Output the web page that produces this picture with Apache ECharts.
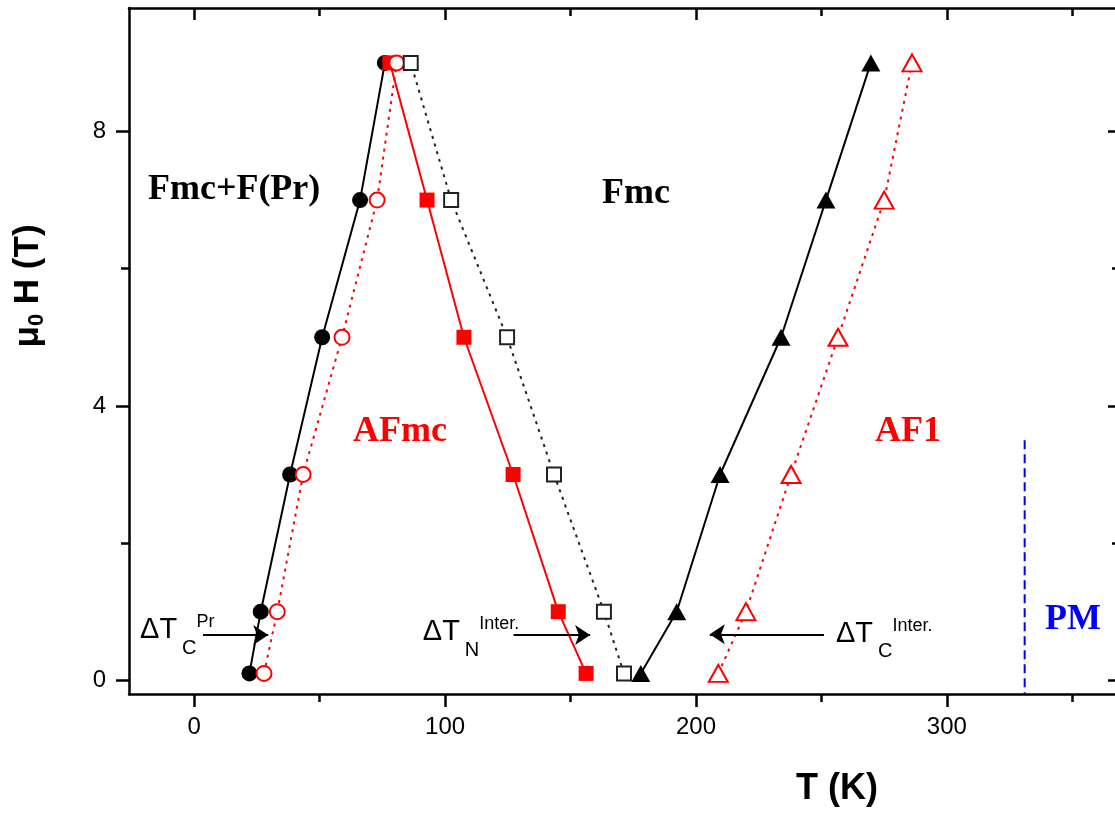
<!DOCTYPE html>
<html>
<head>
<meta charset="utf-8">
<title>Magnetic phase diagram μ0H vs T</title>
<script src="https://cdn.jsdelivr.net/npm/echarts@6/dist/echarts.min.js"></script>
<style>
  html, body { margin: 0; padding: 0; background: #fff; }
  #chart { width: 1115px; height: 816px; }
</style>
</head>
<body>
<div id="chart"></div>
<script>
// Applied field levels (T) shared by every transition line
const fieldLevels = [0.1, 1, 3, 5, 7, 9];

// Transition temperatures (K) at each field level
const tFilledCircle   = [22.0, 26.5, 38.2, 51.0, 66.1, 76.0];
const tOpenCircle     = [27.8, 33.1, 43.4, 58.9, 72.9, 80.7];
const tFilledSquare   = [156.2, 145.1, 127.1, 107.5, 92.8, 78.0];
const tOpenSquare     = [171.3, 163.3, 143.4, 124.7, 102.4, 86.3];
const tFilledTriangle = [178.0, 192.3, 209.6, 233.9, 251.8, 269.7];
const tOpenTriangle   = [208.9, 219.9, 237.9, 256.6, 275.0, 286.1];

// Paramagnetic boundary (dashed vertical segment): [T, μ0H]
const pmBoundary = [[331, 3.5], [331, -0.2]];

// Axis ticks
const tMajorTicks = [0, 100, 200, 300];
const tMinorTicks = [50, 150, 250, 350];
const hMajorTicks = [0, 4, 8];
const hMinorTicks = [2, 6];

const T_MIN = -26, T_MAX = 369;
const H_MIN = -0.2, H_MAX = 9.8;

const SANS = "'Liberation Sans', Arial, Helvetica, sans-serif";
const SERIF = "'Liberation Serif', 'Times New Roman', Times, serif";
const RED = '#ff0000';
const BLUE = '#0000ff';

function pairs(ts) {
  return ts.map((t, i) => [t, fieldLevels[i]]);
}

const gridRect = { left: 129, top: 8, width: 991, height: 686, outerBoundsMode: 'none', containLabel: false };

function xAxisDef(gridIndex, position, ticks, len, inside, withLine, withLabels) {
  return {
    type: 'value', gridIndex, position, min: T_MIN, max: T_MAX,
    axisLine: { show: withLine, onZero: false, lineStyle: { color: '#000', width: 2.5 } },
    axisTick: { show: true, inside, length: len, customValues: ticks, lineStyle: { color: '#000', width: 2.5 } },
    axisLabel: withLabels
      ? { show: true, customValues: ticks, margin: 21, fontSize: 24, color: '#000', fontFamily: SANS }
      : { show: false, customValues: ticks },
    splitLine: { show: false }, minorTick: { show: false }
  };
}

function yAxisDef(gridIndex, position, ticks, len, inside, withLine, withLabels) {
  return {
    type: 'value', gridIndex, position, min: H_MIN, max: H_MAX,
    axisLine: { show: withLine, onZero: false, lineStyle: { color: '#000', width: 2.5 } },
    axisTick: { show: true, inside, length: len, customValues: ticks, lineStyle: { color: '#000', width: 2.5 } },
    axisLabel: withLabels
      ? { show: true, customValues: ticks, margin: 23, fontSize: 24, color: '#000', fontFamily: SANS }
      : { show: false, customValues: ticks },
    splitLine: { show: false }, minorTick: { show: false }
  };
}

function transitionSeries(name, ts, symbol, size, color, lineType, border) {
  return {
    type: 'line', name, data: pairs(ts),
    xAxisIndex: 0, yAxisIndex: 0,
    symbol, symbolSize: size, showAllSymbol: true,
    itemStyle: border
      ? { color: color, borderColor: color, borderWidth: 1.5, opacity: 1 }
      : { color: color, borderWidth: 0, opacity: 1 },
    lineStyle: { color: color, width: 2, type: lineType },
    emphasis: { disabled: true }, silent: true, z: 3
  };
}

// Phase region names
const regionNames = [
  { name: 'Fmc+F(Pr)', value: [15.9, 7.15], color: '#000' },
  { name: 'Fmc',       value: [176.1, 7.1], color: '#000' },
  { name: 'AFmc',      value: [82.0, 3.62], color: RED },
  { name: 'AF1',       value: [284.5, 3.62], color: RED },
  { name: 'PM',        value: [350.3, 0.88], color: BLUE }
];

// Width annotations of the transitions: ΔT with subscript and superscript
const widthNotes = [
  { value: [-21.6, 0.73], sub: 'C', sup: 'Pr' },
  { value: [91.1, 0.70],  sub: 'N', sup: 'Inter.' },
  { value: [255.8, 0.68], sub: 'C', sup: 'Inter.' }
];

// Arrows pointing at the transition widths
const widthArrows = [
  [[3.5, 0.66], [29.5, 0.66]],
  [[127.3, 0.66], [157.8, 0.66]],
  [[251.0, 0.67], [205.5, 0.67]]
];

const option = {
  animation: false,
  backgroundColor: '#fff',
  grid: [Object.assign({}, gridRect), Object.assign({}, gridRect)],
  xAxis: [
    xAxisDef(0, 'bottom', tMajorTicks, 13, false, true, true),
    xAxisDef(0, 'top', tMajorTicks, 12, true, true, false),
    xAxisDef(1, 'bottom', tMinorTicks, 8, false, false, false),
    xAxisDef(1, 'top', tMinorTicks, 8, true, false, false)
  ],
  yAxis: [
    yAxisDef(0, 'left', hMajorTicks, 13, false, true, true),
    yAxisDef(0, 'right', hMajorTicks, 12, true, true, false),
    yAxisDef(1, 'left', hMinorTicks, 8, false, false, false),
    yAxisDef(1, 'right', hMinorTicks, 8, true, false, false)
  ],
  series: [
    {
      type: 'line', name: 'PM boundary', data: pmBoundary,
      symbol: 'none', lineStyle: { color: BLUE, width: 2, type: [9, 5] },
      emphasis: { disabled: true }, silent: true, z: 2
    },
    transitionSeries('Fmc+F(Pr) / AFmc', tFilledCircle, 'circle', 16, '#000', 'solid', false),
    transitionSeries('AFmc / Fmc (down)', tFilledSquare, 'rect', 15, RED, 'solid', false),
    transitionSeries('Fmc+F(Pr) / AFmc (up)', tOpenCircle, 'emptyCircle', 15, RED, [3, 5], true),
    transitionSeries('AFmc / Fmc (up)', tOpenSquare, 'emptyRect', 14, '#222', [3, 5], true),
    transitionSeries('AF1 / Fmc', tFilledTriangle, 'triangle', [19, 17], '#000', 'solid', false),
    transitionSeries('AF1 / Fmc (up)', tOpenTriangle, 'emptyTriangle', [19, 17], RED, [3, 5], true),
    {
      type: 'scatter', name: 'regions', symbolSize: 0, silent: true, z: 5,
      itemStyle: { opacity: 1 },
      data: regionNames.map(r => ({
        name: r.name, value: r.value,
        label: { color: r.color }
      })),
      label: {
        show: true, position: 'inside', formatter: '{b}', opacity: 1,
        fontFamily: SERIF, fontWeight: 'bold', fontSize: 36
      }
    },
    {
      type: 'scatter', name: 'widths', symbolSize: 0, silent: true, z: 5,
      itemStyle: { opacity: 1 },
      data: widthNotes.map(n => ({
        value: n.value,
        label: { formatter: '{d|ΔT}{s|' + n.sub + '}{p|' + n.sup + '}' }
      })),
      label: {
        show: true, position: 'right', distance: 0, color: '#000', opacity: 1,
        rich: {
          d: { fontFamily: SANS, fontSize: 29, color: '#000', lineHeight: 56, verticalAlign: 'middle' },
          s: { fontFamily: SANS, fontSize: 20, color: '#000', lineHeight: 26, verticalAlign: 'bottom', padding: [0, 0, 0, 5] },
          p: { fontFamily: SANS, fontSize: 18, color: '#000', verticalAlign: 'top', padding: [11, 0, 0, 0] }
        }
      },
      markLine: {
        silent: true, symbol: ['none', 'arrow'], symbolSize: 15,
        label: { show: false },
        lineStyle: { color: '#000', width: 2, type: 'solid', opacity: 1 },
        itemStyle: { color: '#000', opacity: 1 },
        emphasis: { disabled: true },
        data: widthArrows.map(a => [{ coord: a[0] }, { coord: a[1] }])
      }
    }
  ],
  graphic: [
    {
      type: 'text', x: 837, y: 789, silent: true,
      style: { text: 'T (K)', fontFamily: SANS, fontWeight: 'bold', fontSize: 36, fill: '#000', align: 'center', verticalAlign: 'middle' }
    },
    {
      type: 'text', x: 28, y: 286, rotation: Math.PI / 2, silent: true,
      style: {
        text: '{m|μ}{s|0}{m| H (T)}', align: 'center', verticalAlign: 'middle',
        rich: {
          m: { fontFamily: SANS, fontWeight: 'bold', fontSize: 35, fill: '#000', lineHeight: 40, verticalAlign: 'middle' },
          s: { fontFamily: SANS, fontWeight: 'bold', fontSize: 22, fill: '#000', lineHeight: 19, verticalAlign: 'bottom' }
        }
      }
    }
  ]
};

const chart = echarts.init(document.getElementById('chart'), null, { renderer: 'canvas' });
chart.setOption(option);
</script>
</body>
</html>
